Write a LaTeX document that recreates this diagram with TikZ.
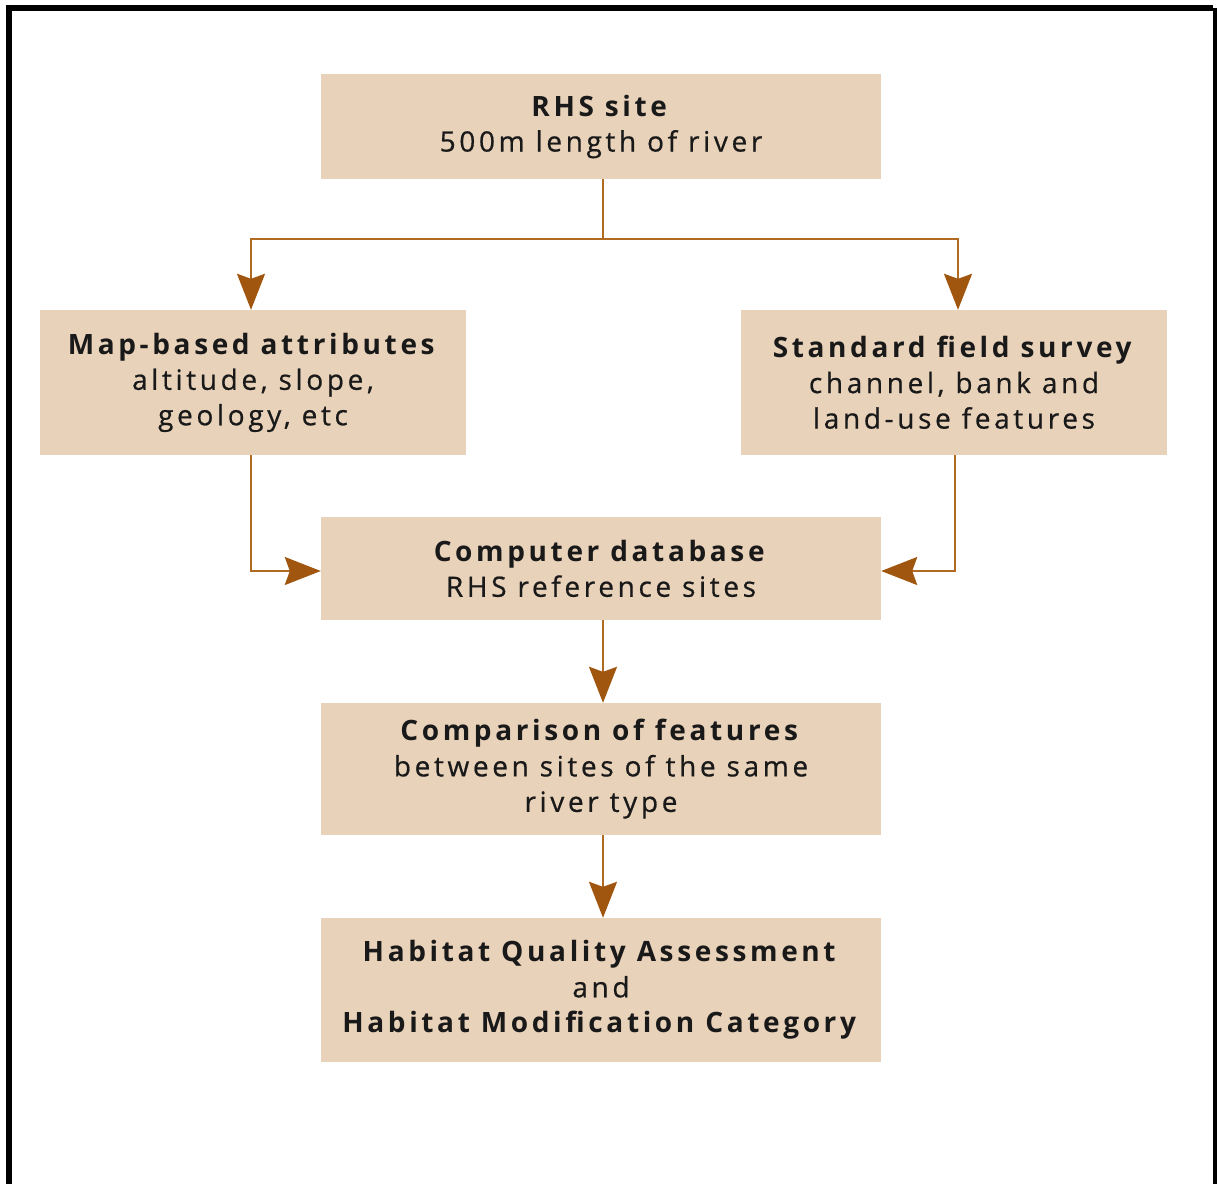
\documentclass[tikz,border=0pt]{standalone}
\usepackage{fontspec}
\setmainfont{Open Sans}[LetterSpace=13, UprightFeatures={FakeBold=0.6}]
\usetikzlibrary{arrows.meta}
\definecolor{boxfill}{HTML}{E9D2BA}
\definecolor{linec}{HTML}{B06A22}
\definecolor{tipc}{HTML}{A0560E}
\tikzset{
  box/.style={fill=boxfill, draw=none, align=center, inner sep=0pt,
    font=\fontsize{28}{35.5}\selectfont, text=black!90},
  conn/.style={draw=linec, line width=2pt,
    -{Stealth[length=36pt,width=28pt,inset=5pt,color=tipc]}},
  plain/.style={draw=linec, line width=2pt}
}
\begin{document}
\begin{tikzpicture}[x=1pt,y=-1pt]
\useasboundingbox (0,0) rectangle (1217,1184);
\draw[line width=6pt, line cap=butt, line join=miter] (9,1184) -- (9,8) -- (1213,8);
\draw[line width=4pt] (1215,8) -- (1215,1184);
% boxes
\node[box, minimum width=560pt, minimum height=105pt] (rhs) at (601,126.5)
  {\textbf{RHS site}\\500m length of river};
\node[box, minimum width=426pt, minimum height=145pt] (map) at (253,382.5)
  {\textbf{Map-based attributes}\\altitude, slope,\\geology, etc};
\node[box, minimum width=426pt, minimum height=145pt] (field) at (954,382.5)
  {\textbf{Standard field survey}\\channel, bank and\\land-use features};
\node[box, minimum width=560pt, minimum height=103pt] (db) at (601,568.5)
  {\textbf{Computer database}\\RHS reference sites};
\node[box, minimum width=560pt, minimum height=132pt] (cmp) at (601,769)
  {\textbf{Comparison of features}\\between sites of the same\\river type};
\node[box, minimum width=560pt, minimum height=144pt] (hqa) at (601,990)
  {\textbf{Habitat Quality Assessment}\\and\\\textbf{Habitat Modification Category}};
% connectors
\coordinate (split) at (603,239);
\draw[plain] (rhs.south -| split) -- (split);
\draw[conn] (split) -| (map.north -| 251,0);
\draw[conn] (split) -| (field.north -| 958,0);
\draw[conn] (map.south -| 251,0) |- (db.west |- 0,571);
\draw[conn] (field.south -| 955,0) |- (db.east |- 0,571);
\draw[conn] (db.south -| 603,0) -- (cmp.north -| 603,0);
\draw[conn] (cmp.south -| 603,0) -- (hqa.north -| 603,0);
\end{tikzpicture}
\end{document}
